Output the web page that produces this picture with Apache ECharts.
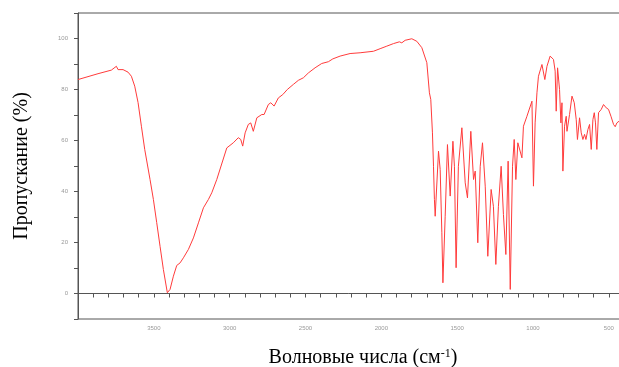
<!DOCTYPE html>
<html>
<head>
<meta charset="utf-8">
<script src="https://cdn.jsdelivr.net/npm/echarts@6/dist/echarts.min.js"></script>
<style>
  html, body { margin: 0; padding: 0; background: #fff; }
  #chart { width: 619px; height: 367px; }
</style>
</head>
<body>
<div id="chart"></div>
<script>
// волновые числа, см-1
const wavenumbers = [
  4000, 3868, 3780, 3747, 3736, 3703, 3670, 3648, 3626, 3604, 3582, 3560, 3525, 3503, 3481, 3459, 3437, 3411,
  3393, 3371, 3349, 3327, 3305, 3272, 3239, 3206, 3173, 3140, 3118, 3085, 3019, 2976, 2943, 2927, 2914, 2898,
  2877, 2861, 2844, 2821, 2788, 2773, 2745, 2729, 2707, 2679, 2650, 2620, 2580, 2547, 2514, 2481, 2437, 2393,
  2349, 2320, 2272, 2206, 2140, 2052, 2008, 1964, 1920, 1881, 1865, 1843, 1799, 1766, 1733, 1700, 1683, 1674,
  1663, 1656, 1650, 1645, 1623, 1612, 1601, 1594, 1579, 1564, 1546, 1528, 1518, 1507, 1492, 1469, 1447, 1432,
  1410, 1392, 1381, 1364, 1348, 1333, 1315, 1298, 1276, 1261, 1245, 1228, 1210, 1195, 1179, 1164, 1150, 1135,
  1124, 1113, 1100, 1089, 1073, 1063, 1040, 1007, 1001, 997, 986, 974, 964, 941, 931, 922, 908, 887, 865, 854,
  847, 838, 825, 816, 809, 803, 792, 781, 776, 759, 743, 728, 715, 707, 693, 682, 671, 660, 651, 638, 627, 616,
  605, 596, 588, 579, 568, 550, 535, 517, 502, 486, 469, 458, 447, 432
];
// пропускание, %
const transmittance = [
  83.9, 86.2, 87.6, 89.1, 87.8, 87.8, 86.8, 85.2, 81.3, 74.9, 65.6, 56.5, 44.7, 36.9, 27.8, 18.5, 9.4, 0.3,
  1.6, 6.8, 11.0, 12.0, 14.0, 17.3, 21.8, 27.7, 33.6, 36.9, 39.5, 44.7, 57.1, 59.1, 61.1, 60.4, 57.8, 63.0,
  66.3, 66.9, 63.6, 68.9, 70.2, 70.2, 74.1, 74.8, 73.5, 76.7, 78.0, 80.0, 82.0, 83.6, 84.6, 86.5, 88.5, 90.2,
  90.9, 92.0, 93.1, 94.1, 94.4, 95.0, 96.0, 97.0, 98.0, 98.7, 98.3, 99.3, 99.9, 98.9, 96.4, 90.5, 78.7, 76.1,
  63.0, 49.9, 36.9, 30.3, 55.8, 48.6, 23.8, 4.2, 30.3, 58.4, 38.2, 59.7, 49.9, 10.1, 49.9, 65.0, 43.4, 37.5,
  63.6, 44.7, 48.0, 19.9, 49.9, 59.1, 42.1, 14.6, 40.8, 34.2, 11.4, 34.2, 49.9, 31.0, 15.3, 51.9, 1.6, 49.9,
  60.4, 44.7, 59.1, 58.4, 53.2, 65.6, 69.5, 75.4, 74.8, 42.1, 66.9, 78.7, 85.2, 89.8, 89.1, 83.9, 89.1, 93.1, 91.8, 87.2,
  71.5, 88.5, 80.0, 66.9, 74.8, 48.0, 65.6, 69.5, 63.6, 70.2, 77.4, 74.8, 68.2, 60.4, 68.9, 63.0, 60.4, 62.4, 60.4, 64.3, 66.3, 56.5,
  68.2, 70.9, 66.9, 56.5, 70.9, 72.2, 74.1, 72.8, 72.2, 69.5, 66.3, 65.4, 66.9, 67.6
];
const xLabels = [3500, 3000, 2500, 2000, 1500, 1000, 500];
const yLabels = [0, 20, 40, 60, 80, 100];

const chart = echarts.init(document.getElementById('chart'), null, { renderer: 'canvas' });

const option = {
  animation: false,
  grid: {
    left: 78,
    right: -5,
    top: 13,
    bottom: 48,
    outerBoundsMode: 'none',
    show: true,
    borderColor: '#555',
    borderWidth: 1
  },
  xAxis: {
    type: 'value',
    inverse: true,
    min: 400,
    max: 4000,
    interval: 100,
    name: 'Волновые числа (см{sup|-1})',
    nameLocation: 'middle',
    nameGap: 29,
    nameTextStyle: {
      fontFamily: 'Liberation Serif',
      fontSize: 20,
      color: '#000',
      padding: [0, 0, 0, 24],
      rich: {
        sup: { fontFamily: 'Liberation Serif', fontSize: 12, color: '#000', verticalAlign: 'top', padding: [0, 0, 8, 0] }
      }
    },
    axisLine: { show: true, lineStyle: { color: '#555', width: 1 } },
    axisTick: { show: true, length: 4, lineStyle: { color: '#555' } },
    axisLabel: {
      fontSize: 6,
      color: '#999',
      margin: 6,
      formatter: v => (xLabels.includes(v) ? String(v) : '')
    },
    splitLine: { show: false }
  },
  yAxis: {
    type: 'value',
    min: -10,
    max: 110,
    interval: 10,
    name: 'Пропускание (%)',
    nameLocation: 'middle',
    nameGap: 46,
    nameTextStyle: {
      fontFamily: 'Liberation Serif',
      fontSize: 20,
      color: '#000'
    },
    axisLine: { show: true, lineStyle: { color: '#555', width: 1 } },
    axisTick: { show: true, length: 4, lineStyle: { color: '#555' } },
    axisLabel: {
      fontSize: 6,
      color: '#999',
      margin: 10,
      formatter: v => (yLabels.includes(v) ? String(v) : '')
    },
    splitLine: { show: false }
  },
  series: [{
    type: 'line',
    data: wavenumbers.map((w, i) => [w, transmittance[i]]),
    showSymbol: false,
    symbol: 'none',
    lineStyle: { color: '#ff3b3b', width: 1 },
    clip: true
  }]
};

chart.setOption(option);
</script>
</body>
</html>
